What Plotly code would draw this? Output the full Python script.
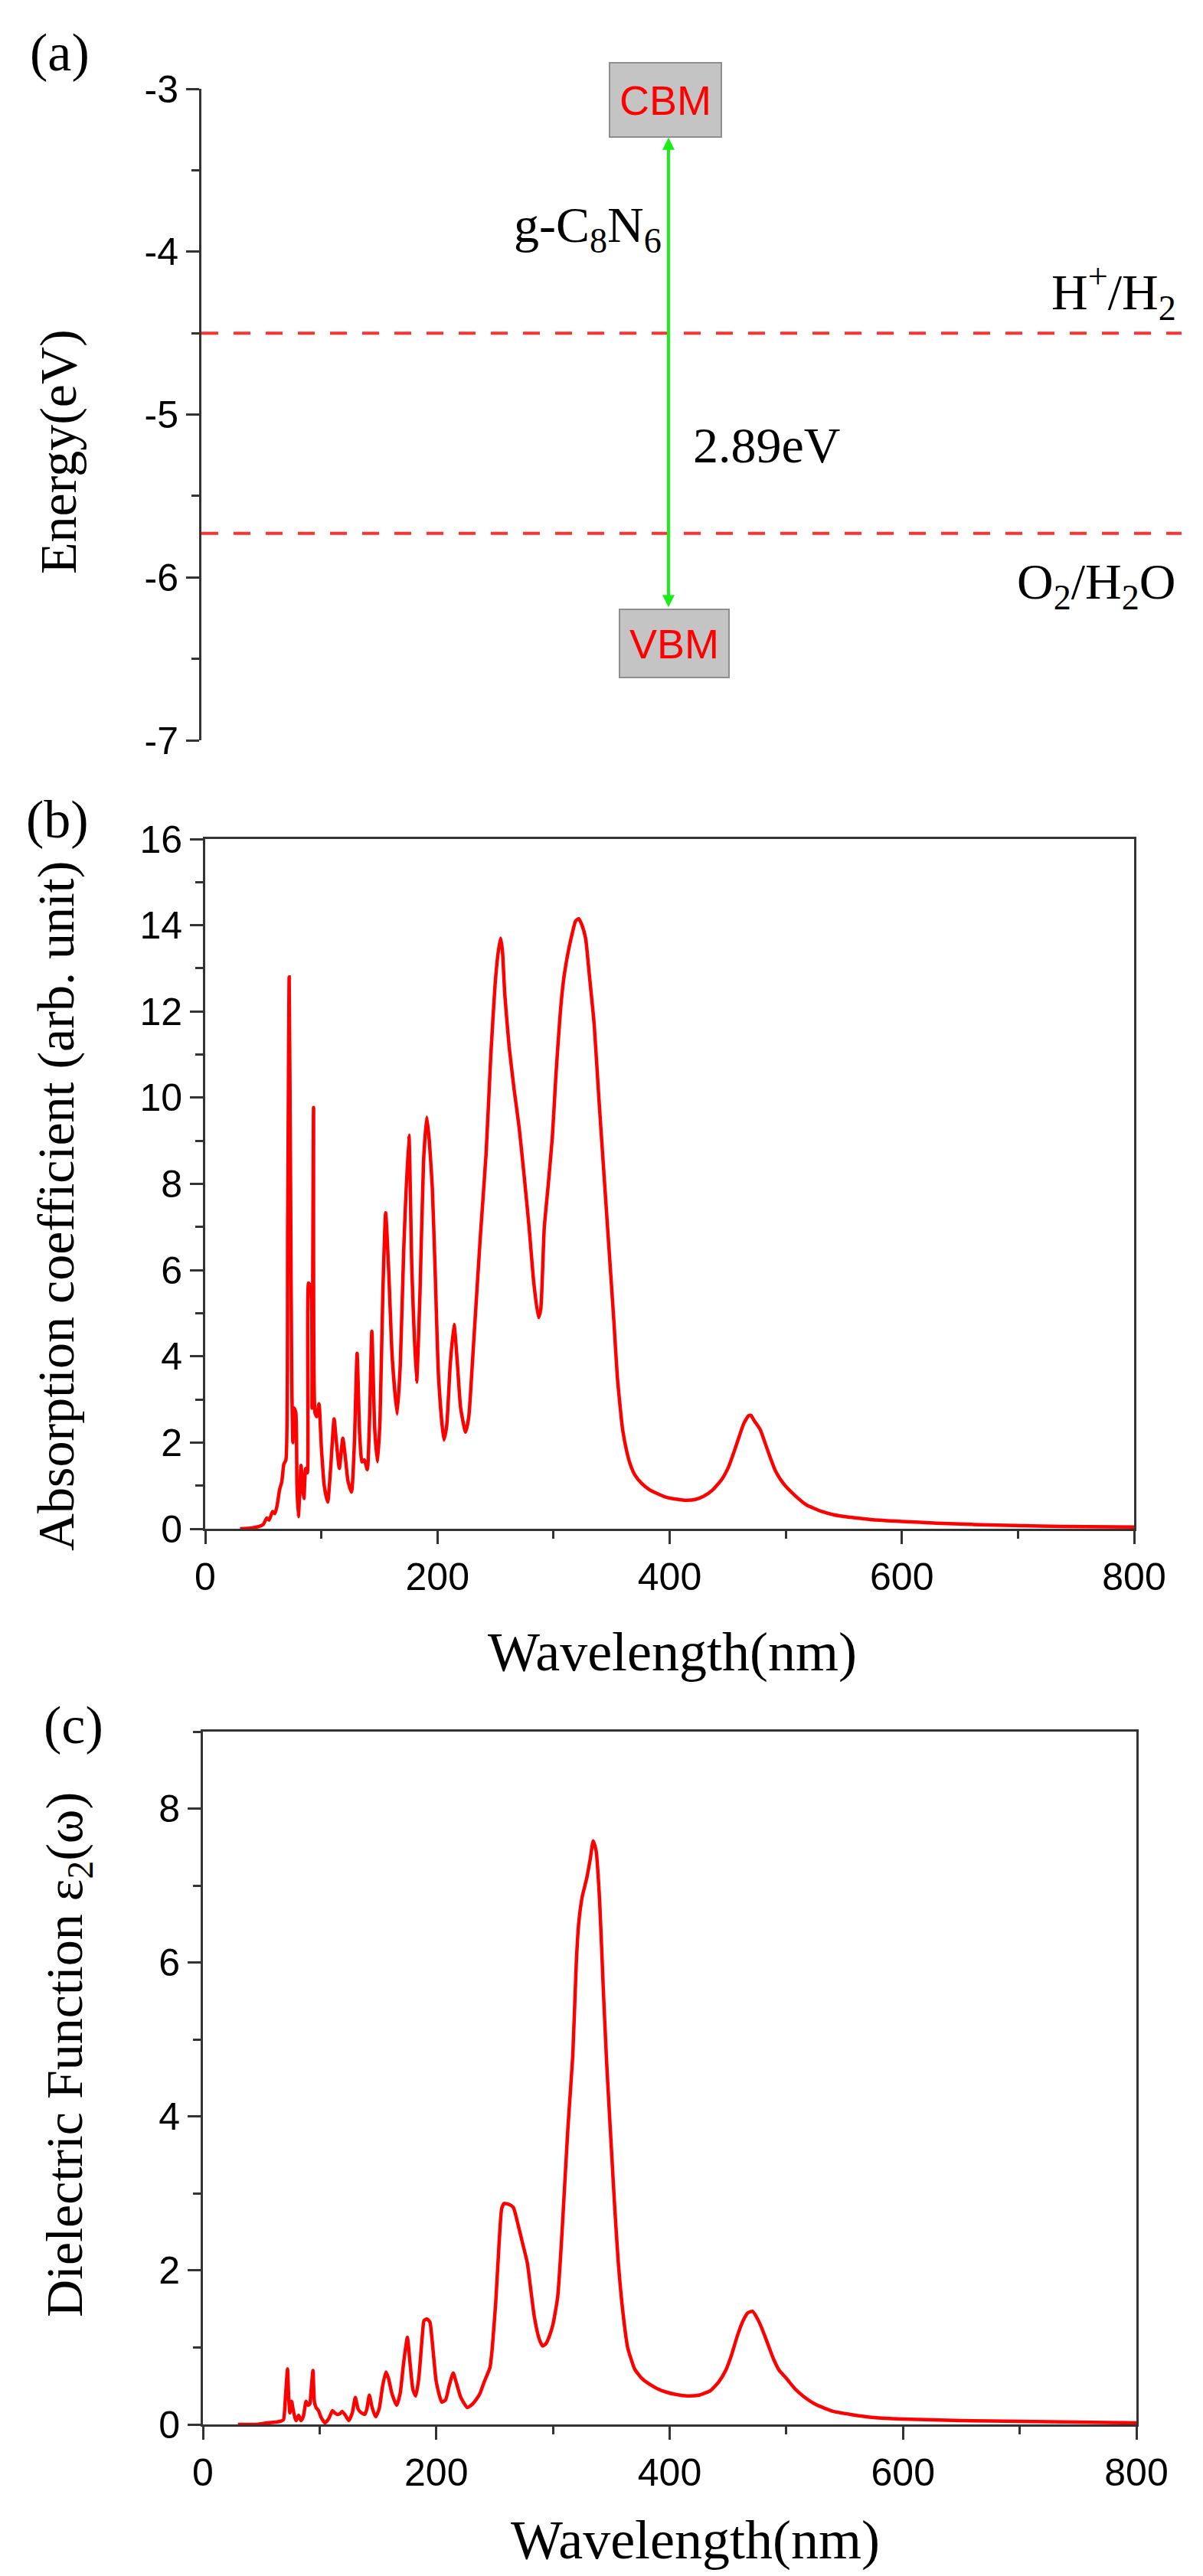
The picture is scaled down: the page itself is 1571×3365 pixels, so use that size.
import plotly.graph_objects as go

W = 1571
H = 3365

SERIF = "Times New Roman, Liberation Serif, serif"
SANS = "Arial, Liberation Sans, sans-serif"
AXIS_COLOR = "#333333"

# (a) band alignment, eV
CBM = -3.30
VBM = -6.19
H_LEVEL = -4.50
O_LEVEL = -5.73
GAP_LABEL = "2.89eV"
ENERGY_TICKS = [-7, -6, -5, -4, -3]
ENERGY_TICK_TEXT = ["-7", "-6", "-5", "-4", "-3"]

# (b) absorption coefficient vs wavelength
abs_wl = [30, 40, 46, 50, 53, 55, 58, 60, 62, 64, 66, 67.7, 69.5, 71, 72.3, 73.5, 74.5, 75.5,
          76.5, 78, 79, 80.2, 81.5, 82.5, 84, 85, 86.5, 88, 89, 91, 92, 93.3, 94.5, 96, 98,
          100, 102.5, 105.5, 108, 111, 113, 115.5, 118.5, 120.5, 123, 126, 128.5, 130.8, 133,
          135, 137, 139.6, 141.5, 143.5, 146, 148.4, 150.5, 153, 155.4, 158, 161, 165.3, 168,
          171, 175.4, 178, 182, 185, 188, 190.8, 193, 195.6, 198, 201, 205.5, 208, 211, 214.3,
          217, 220, 224.2, 227, 230, 233, 237, 241.9, 246, 249.6, 252, 254.4, 256, 258, 261.7,
          266, 270.4, 275, 279, 283, 287, 289, 292, 295.5, 299, 302, 305.6, 308.5, 312, 316,
          319, 321.7, 324.5, 327.6, 331, 335, 339, 343, 347, 352, 355, 359.5, 363, 366, 370,
          376, 383, 389, 395, 402, 410, 415, 422, 429, 437, 445, 451, 455, 460, 464, 468, 470,
          473, 478, 484, 491, 498, 508, 518, 531, 542, 554, 575, 600, 630, 660, 690, 719, 760,
          800]
abs_val = [0, 0.02, 0.05, 0.1, 0.25, 0.2, 0.4, 0.35, 0.55, 0.9, 1.1, 1.5, 1.6, 7.0, 12.8, 8.0,
           3.5, 2.0, 2.8, 2.7, 1.0, 0.28, 0.9, 1.47, 0.9, 0.7, 1.4, 1.3, 5.7, 5.6, 2.8, 9.77,
           2.7, 2.6, 2.9, 1.9, 1.0, 0.62, 1.4, 2.55, 2.0, 1.4, 2.1, 1.7, 1.1, 0.85, 2.0, 4.07,
           2.2, 1.55, 1.6, 1.37, 2.5, 4.58, 2.3, 1.55, 2.5, 5.5, 7.33, 6.0, 4.0, 2.66, 3.8, 6.5,
           9.13, 6.0, 3.4, 5.5, 8.5, 9.55, 9.0, 7.9, 6.0, 3.5, 2.06, 2.4, 3.8, 4.74, 3.9, 2.8,
           2.24, 2.6, 3.8, 5.1, 6.8, 8.7, 11.0, 12.6, 13.3, 13.7, 13.4, 12.4, 11.2, 10.2, 9.3,
           8.1, 6.98, 5.7, 4.9, 5.1, 6.98, 8.0, 9.1, 10.5, 11.9, 12.7, 13.3, 13.8, 14.1, 14.15,
           14.0, 13.7, 12.8, 11.7, 10.0, 8.4, 6.8, 4.8, 3.5, 2.3, 1.8, 1.5, 1.25, 1.05, 0.9,
           0.82, 0.75, 0.7, 0.67, 0.66, 0.68, 0.75, 0.9, 1.15, 1.45, 1.75, 2.15, 2.45, 2.62,
           2.63, 2.5, 2.3, 1.85, 1.35, 1.05, 0.77, 0.55, 0.4, 0.32, 0.27, 0.21, 0.17, 0.13,
           0.1, 0.08, 0.06, 0.05, 0.04]

# (c) imaginary dielectric function vs wavelength
eps_wl = [30, 45, 55, 62, 66, 69, 70.5, 72.5, 73.5, 74.5, 76, 77.5, 79, 80, 82, 84, 86, 88.4,
          90, 91.7, 92.5, 94.3, 95.5, 97, 99, 101, 104.6, 108, 111, 113, 115.4, 117.5, 119.3,
          122, 125, 128, 130.6, 133, 135, 138.7, 140.5, 142.6, 145, 148, 151, 154, 156.8, 159,
          162, 166, 169, 172, 175.2, 177.5, 180, 182.4, 185, 188, 189.5, 192, 194.5, 197, 200,
          204.7, 208, 211, 214.5, 217, 221, 226.5, 230, 234, 237.4, 241, 246, 248, 251, 254,
          256, 258, 262, 266, 270, 274, 278, 281, 284, 288, 291, 294, 297, 300, 304, 307, 310,
          313, 317, 320, 322, 325, 329, 332, 334.5, 337, 340, 343, 346, 350, 353, 356, 360,
          364, 370, 376, 383, 390, 397, 405, 415, 425, 435, 442, 448, 453, 458, 463, 467, 471,
          475, 479, 484, 489, 494, 500, 507, 515, 525, 540, 555, 575, 600, 650, 700, 750, 800]
eps_val = [0, 0, 0.02, 0.03, 0.04, 0.06, 0.3, 0.72, 0.35, 0.15, 0.3, 0.18, 0.08, 0.05, 0.12,
           0.05, 0.1, 0.3, 0.25, 0.27, 0.4, 0.7, 0.3, 0.22, 0.18, 0.1, 0.02, 0.08, 0.18, 0.15,
           0.13, 0.14, 0.17, 0.12, 0.05, 0.15, 0.35, 0.2, 0.16, 0.13, 0.2, 0.38, 0.22, 0.1, 0.2,
           0.5, 0.68, 0.6, 0.4, 0.25, 0.4, 0.8, 1.13, 0.8, 0.45, 0.37, 0.6, 1.15, 1.35, 1.37,
           1.33, 1.0, 0.55, 0.29, 0.32, 0.5, 0.67, 0.55, 0.35, 0.22, 0.25, 0.32, 0.4, 0.55,
           0.74, 1.0, 1.6, 2.4, 2.8, 2.87, 2.86, 2.82, 2.6, 2.35, 2.1, 1.75, 1.4, 1.12, 1.02,
           1.05, 1.15, 1.3, 1.65, 2.3, 3.1, 3.9, 4.8, 6.0, 6.5, 6.85, 7.1, 7.35, 7.58, 7.45,
           6.8, 5.7, 4.7, 3.6, 2.8, 2.1, 1.45, 1.0, 0.72, 0.6, 0.52, 0.46, 0.42, 0.39, 0.37,
           0.38, 0.44, 0.55, 0.7, 0.9, 1.15, 1.35, 1.45, 1.47, 1.38, 1.25, 1.05, 0.85, 0.7,
           0.6, 0.47, 0.36, 0.26, 0.17, 0.13, 0.09, 0.07, 0.05, 0.04, 0.03, 0.02]


def fx(px):
    return px / W


def fy(py):
    return 1 - py / H


fig = go.Figure()

# (a) redox levels
for level in [H_LEVEL, O_LEVEL]:
    fig.add_trace(go.Scatter(
        x=[0, 0.9726], y=[level, level], mode="lines",
        line=dict(color="#ff3030", width=4, dash="22px,20px"),
        xaxis="x", yaxis="y", showlegend=False, hoverinfo="skip"
    ))

fig.add_trace(go.Scatter(
    x=abs_wl, y=abs_val, mode="lines",
    line=dict(color="#ff0000", width=4.5, shape="spline", smoothing=0.5),
    xaxis="x2", yaxis="y2", showlegend=False
))

fig.add_trace(go.Scatter(
    x=eps_wl, y=eps_val, mode="lines",
    line=dict(color="#ff0000", width=4.5, shape="spline", smoothing=0.5),
    xaxis="x3", yaxis="y3", showlegend=False
))

tick_font = dict(family=SANS, size=50, color="black")
minor_ticks = dict(ticks="outside", ticklen=10, tickwidth=3, tickcolor=AXIS_COLOR)

spec_x = dict(
    range=[0, 800], dtick=200, tick0=0,
    showgrid=False, zeroline=False, showline=True, mirror=True,
    linecolor=AXIS_COLOR, linewidth=3,
    ticks="outside", ticklen=17, tickwidth=3, tickcolor=AXIS_COLOR,
    minor=dict(dtick=100, **minor_ticks),
    tickfont=tick_font, automargin=False
)

spec_y = dict(
    showgrid=False, zeroline=False, showline=True, mirror=True,
    linecolor=AXIS_COLOR, linewidth=3,
    ticks="outside", ticklen=17, tickwidth=3, tickcolor=AXIS_COLOR,
    minor=dict(dtick=1, **minor_ticks),
    tickfont=tick_font, automargin=False
)

fig.update_layout(
    width=W, height=H, autosize=False,
    margin=dict(l=0, r=0, t=0, b=0),
    paper_bgcolor="white", plot_bgcolor="white",
    xaxis=dict(domain=[fx(255), 1], range=[0, 1], visible=False, anchor="y"),
    yaxis=dict(
        domain=[fy(959), fy(108)], range=[-7, -3], anchor="x",
        tickmode="array", tickvals=ENERGY_TICKS, ticktext=ENERGY_TICK_TEXT,
        showgrid=False, zeroline=False, showline=True,
        linecolor=AXIS_COLOR, linewidth=3,
        ticks="outside", ticklen=17, tickwidth=3, tickcolor=AXIS_COLOR,
        minor=dict(tick0=-3, dtick=0.5, **minor_ticks),
        tickfont=tick_font, automargin=False
    ),
    xaxis2=dict(domain=[fx(260), fx(1473)], anchor="y2", **spec_x),
    yaxis2=dict(domain=[fy(1989), fy(1088)], range=[0, 16], dtick=2, anchor="x2", **spec_y),
    xaxis3=dict(domain=[fx(257), fx(1476)], anchor="y3", **spec_x),
    yaxis3=dict(domain=[fy(3159), fy(2254)], range=[0, 9], dtick=2, anchor="x3", **spec_y),
)

serif_big = dict(family=SERIF, size=70, color="black")
serif_title = dict(family=SERIF, size=68, color="black")
serif_mid = dict(family=SERIF, size=66, color="black")


def paper_text(px, py, text, font=serif_big, angle=0):
    return dict(x=fx(px), y=fy(py), xref="paper", yref="paper", text=text,
                xanchor="center", yanchor="middle", textangle=angle,
                showarrow=False, font=font)


annotations = [
    # band gap arrow
    dict(x=0.4635, y=CBM, ax=0.4635, ay=VBM, xref="x", yref="y", axref="x", ayref="y",
         text="", showarrow=True, arrowside="end+start", arrowhead=2, arrowsize=0.8,
         arrowwidth=4, arrowcolor="#19ee19", standoff=0, startstandoff=0),
    dict(x=0.4605, y=CBM, xref="x", yref="y", text="CBM", showarrow=False,
         xanchor="center", yanchor="bottom", width=144, height=95,
         bgcolor="#c4c4c4", bordercolor="#8f8f8f", borderwidth=2, borderpad=0,
         font=dict(family=SANS, size=54, color="#ff0000")),
    dict(x=0.4689, y=VBM, xref="x", yref="y", text="VBM", showarrow=False,
         xanchor="center", yanchor="top", width=141, height=87,
         bgcolor="#c4c4c4", bordercolor="#8f8f8f", borderwidth=2, borderpad=0,
         font=dict(family=SANS, size=54, color="#ff0000")),
    dict(x=0.4582, y=-3.86, xref="x", yref="y", text="g-C<sub>8</sub>N<sub>6</sub>",
         showarrow=False, xanchor="right", yanchor="middle", font=serif_mid),
    dict(x=0.4863, y=-5.19, xref="x", yref="y", text=GAP_LABEL,
         showarrow=False, xanchor="left", yanchor="middle", font=serif_mid),
    dict(x=0.9688, y=-4.25, xref="x", yref="y", text="H<sup>+</sup>/H<sub>2</sub>",
         showarrow=False, xanchor="right", yanchor="middle", font=serif_mid),
    dict(x=0.9688, y=-6.05, xref="x", yref="y", text="O<sub>2</sub>/H<sub>2</sub>O",
         showarrow=False, xanchor="right", yanchor="middle", font=serif_mid),
    # panel labels
    paper_text(70, 60, "(a)"),
    paper_text(67, 1062, "(b)"),
    paper_text(88, 2245, "(c)"),
    # axis titles
    paper_text(68, 582, "Energy(eV)", font=serif_title, angle=-90),
    paper_text(65, 1568, "Absorption coefficient (arb. unit)", font=serif_title, angle=-90),
    paper_text(80, 2676, "Dielectric Function \u03b5<sub>2</sub>(\u03c9)", font=serif_title,
               angle=-90),
    paper_text(870, 2150, "Wavelength(nm)", font=dict(family=SERIF, size=72, color="black")),
    paper_text(900, 3310, "Wavelength(nm)", font=dict(family=SERIF, size=72, color="black")),
]

fig.update_layout(annotations=annotations)

fig.write_html("out.html")
